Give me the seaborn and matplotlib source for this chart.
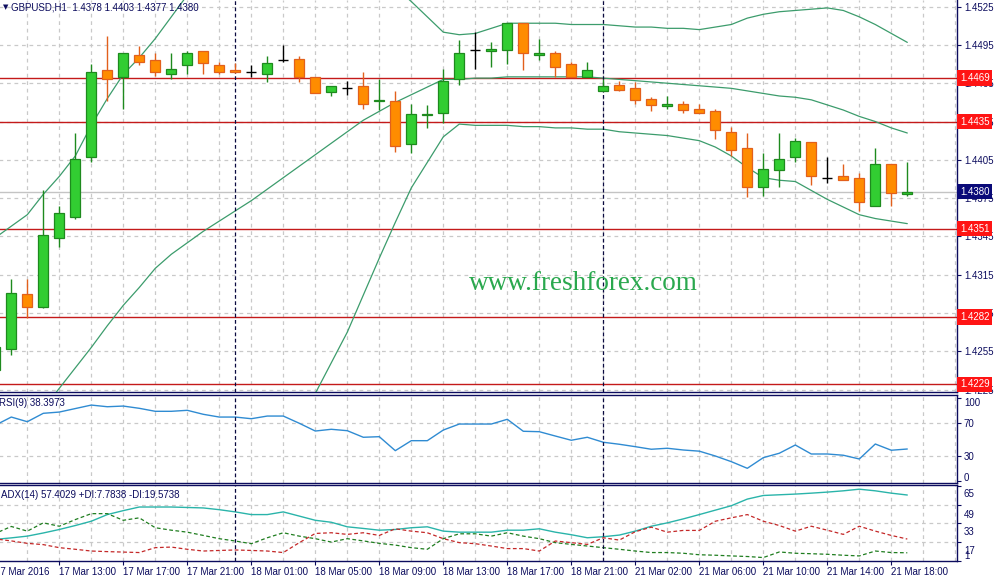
import numpy as np
import pandas as pd
import matplotlib
matplotlib.use("Agg")
import matplotlib.pyplot as plt
import matplotlib.transforms as mtransforms
import seaborn as sns

sns.set_theme(style="white")
plt.rcParams["font.family"] = ["Liberation Sans", "DejaVu Sans"]

# ---------------- DATA ----------------
bar_times = (list(pd.date_range("2016-03-17 09:00", "2016-03-17 23:00", freq="h"))
             + list(pd.date_range("2016-03-18 00:00", "2016-03-18 22:00", freq="h"))
             + list(pd.date_range("2016-03-21 00:00", "2016-03-21 19:00", freq="h")))

opens = [1.4240, 1.4257, 1.4300, 1.4290, 1.4344, 1.4360, 1.4407, 1.4475, 1.4470, 1.4487,
         1.4483, 1.4472, 1.4479, 1.4490, 1.4479, 1.4475, 1.4474, 1.4472, 1.4483, 1.4484,
         1.4470, 1.4458, 1.4461, 1.4463, 1.4451, 1.4451, 1.4417, 1.4440, 1.4442, 1.4468,
         1.4491, 1.4490, 1.4491, 1.4512, 1.4487, 1.4489, 1.4480, 1.4470, 1.4459, 1.4464,
         1.4461, 1.4453, 1.4447, 1.4449, 1.4445, 1.4443, 1.4427, 1.4414, 1.4384, 1.4397,
         1.4407, 1.4419, 1.4391, 1.4392, 1.4391, 1.4369, 1.4402, 1.4378]
highs = [1.4268, 1.4312, 1.4312, 1.4381, 1.4369, 1.4426, 1.4480, 1.4502, 1.4489, 1.4494,
         1.4489, 1.4489, 1.4490, 1.4490, 1.4482, 1.4481, 1.4479, 1.4486, 1.4495, 1.4486,
         1.4470, 1.4463, 1.4467, 1.4474, 1.4468, 1.4459, 1.4449, 1.4448, 1.4476, 1.4499,
         1.4505, 1.4497, 1.4512, 1.4512, 1.4500, 1.4490, 1.4482, 1.4482, 1.4468, 1.4467,
         1.4466, 1.4454, 1.4455, 1.4451, 1.4449, 1.4445, 1.4431, 1.4426, 1.4410, 1.4426,
         1.4422, 1.4419, 1.4407, 1.4402, 1.4395, 1.4414, 1.4402, 1.4403]
lows = [1.4232, 1.4252, 1.4281, 1.4289, 1.4337, 1.4359, 1.4403, 1.4451, 1.4445, 1.4479,
        1.4471, 1.4468, 1.4472, 1.4472, 1.4472, 1.4473, 1.4470, 1.4466, 1.4482, 1.4466,
        1.4457, 1.4455, 1.4456, 1.4445, 1.4444, 1.4411, 1.4410, 1.4430, 1.4434, 1.4464,
        1.4476, 1.4478, 1.4480, 1.4475, 1.4483, 1.4470, 1.4470, 1.4470, 1.4459, 1.4459,
        1.4449, 1.4443, 1.4445, 1.4442, 1.4442, 1.4421, 1.4408, 1.4376, 1.4377, 1.4384,
        1.4403, 1.4385, 1.4387, 1.4389, 1.4365, 1.4369, 1.4369, 1.4377]
closes = [1.4258, 1.4301, 1.4290, 1.4346, 1.4363, 1.4406, 1.4474, 1.4468, 1.4489, 1.4482,
          1.4474, 1.4476, 1.4489, 1.4481, 1.4474, 1.4474, 1.4474, 1.4481, 1.4483, 1.4470,
          1.4457, 1.4463, 1.4461, 1.4449, 1.4452, 1.4416, 1.4441, 1.4441, 1.4467, 1.4489,
          1.4491, 1.4492, 1.4512, 1.4489, 1.4489, 1.4478, 1.4470, 1.4475, 1.4463, 1.4460,
          1.4452, 1.4448, 1.4449, 1.4444, 1.4442, 1.4428, 1.4413, 1.4384, 1.4398, 1.4406,
          1.4420, 1.4392, 1.4391, 1.4389, 1.4372, 1.4402, 1.4379, 1.4380]

# Bollinger bands (parts outside the window are rough guesses, they get clipped)
bb_upper = [1.4344, 1.4353, 1.4362, 1.4378, 1.4392, 1.4408, 1.4432, 1.4453, 1.4472, 1.4485,
            1.4500, 1.4517, 1.4534, 1.4546, 1.4554, 1.4557, 1.4558, 1.4558, 1.4557, 1.4556,
            1.4555, 1.4554, 1.4553, 1.4551, 1.4547, 1.4540, 1.4529, 1.4517, 1.4505, 1.4503,
            1.4504, 1.4508, 1.4512, 1.4512, 1.4512, 1.4512, 1.4511, 1.4511, 1.4511, 1.4510,
            1.4509, 1.4509, 1.4508, 1.4508, 1.4507, 1.4509, 1.4511, 1.4516, 1.4519, 1.4521,
            1.4522, 1.4523, 1.4524, 1.4522, 1.4517, 1.4511, 1.4504, 1.4497]
bb_middle = [1.4166, 1.4178, 1.4193, 1.4210, 1.4226, 1.4242, 1.4258, 1.4275, 1.4291, 1.4305,
             1.4320, 1.4331, 1.4340, 1.4349, 1.4357, 1.4365, 1.4373, 1.4382, 1.4391, 1.4400,
             1.4409, 1.4418, 1.4427, 1.4436, 1.4443, 1.4450, 1.4456, 1.4462, 1.4468, 1.4468,
             1.4469, 1.4469, 1.4470, 1.4470, 1.4470, 1.4470, 1.4470, 1.4470, 1.4469, 1.4468,
             1.4467, 1.4466, 1.4465, 1.4464, 1.4463, 1.4462, 1.4461, 1.4459, 1.4457, 1.4455,
             1.4454, 1.4452, 1.4448, 1.4444, 1.4439, 1.4435, 1.4430, 1.4426]
bb_lower = [1.3990, 1.4000, 1.4010, 1.4020, 1.4030, 1.4045, 1.4060, 1.4075, 1.4090, 1.4100,
            1.4110, 1.4120, 1.4130, 1.4135, 1.4140, 1.4145, 1.4150, 1.4154, 1.4174, 1.4197,
            1.4222, 1.4246, 1.4270, 1.4299, 1.4328, 1.4356, 1.4383, 1.4403, 1.4423, 1.4433,
            1.4432, 1.4432, 1.4432, 1.4431, 1.4431, 1.4430, 1.4430, 1.4429, 1.4429, 1.4427,
            1.4426, 1.4425, 1.4424, 1.4422, 1.4420, 1.4415, 1.4408, 1.4399, 1.4391, 1.4389,
            1.4388, 1.4381, 1.4374, 1.4368, 1.4362, 1.4359, 1.4357, 1.4355]

rsi = [67.0, 76.8, 71.2, 81.3, 82.8, 87.0, 91.2, 89.2, 90.0, 87.3,
       83.7, 83.7, 84.9, 80.1, 76.8, 76.8, 74.8, 78.0, 78.0, 69.3,
       60.0, 62.1, 60.4, 52.5, 53.2, 36.4, 48.4, 48.4, 61.2, 68.4,
       68.4, 68.4, 74.1, 59.7, 59.2, 54.0, 48.9, 52.5, 46.5, 44.1,
       41.2, 38.1, 39.3, 37.2, 35.8, 30.0, 23.2, 15.2, 28.0, 33.3,
       43.2, 32.4, 32.4, 30.9, 26.4, 44.4, 36.9, 38.4]
adx = [19.3, 20.6, 22.1, 24.8, 27.8, 31.2, 34.9, 40.6, 44.0, 47.1,
       47.1, 47.1, 46.7, 46.3, 44.8, 42.9, 40.6, 40.6, 42.9, 39.3,
       35.7, 34.0, 30.1, 28.7, 27.2, 27.8, 29.3, 30.1, 26.4, 25.5,
       25.5, 25.5, 27.2, 27.2, 28.4, 25.5, 23.3, 20.7, 21.6, 23.0,
       26.4, 30.6, 33.5, 36.9, 40.6, 44.4, 48.2, 53.9, 57.0, 57.6,
       58.2, 59.0, 59.9, 61.0, 62.4, 61.0, 59.0, 57.4]
plus_di = [24.4, 30.4, 26.4, 33.5, 30.6, 36.3, 41.4, 41.4, 35.7, 37.8,
           29.3, 27.2, 25.5, 22.7, 19.9, 17.9, 15.6, 20.7, 25.0, 22.1,
           19.9, 17.0, 19.9, 18.0, 15.9, 14.4, 12.2, 10.8, 19.9, 24.1,
           24.1, 22.1, 25.0, 22.1, 19.9, 16.5, 15.0, 13.6, 12.2, 10.8,
           9.3, 8.0, 8.0, 7.4, 6.1, 5.7, 5.1, 4.6, 3.7, 8.5,
           7.4, 7.0, 6.5, 5.7, 5.1, 9.3, 8.0, 7.8]
minus_di = [19.7, 18.0, 15.9, 14.8, 12.2, 10.8, 9.3, 8.8, 8.4, 8.0,
            12.2, 12.7, 10.8, 9.3, 9.8, 10.2, 9.8, 9.3, 8.0, 16.5,
            24.4, 25.0, 23.6, 25.0, 22.7, 28.4, 26.4, 25.0, 19.9, 16.5,
            15.6, 13.6, 11.4, 11.4, 9.3, 17.9, 16.5, 15.0, 20.7, 18.7,
            25.9, 29.8, 25.5, 27.0, 27.0, 34.9, 37.8, 40.6, 34.9, 31.2,
            26.4, 30.6, 27.2, 23.6, 30.6, 26.4, 22.7, 19.6]

levels = [1.4469, 1.4435, 1.4351, 1.4282, 1.4229]
price_ticks = [1.4525, 1.4495, 1.4465, 1.4435, 1.4405, 1.4375, 1.4345,
               1.4315, 1.4285, 1.4255, 1.4225]
rsi_ticks = [100, 70, 30, 0]
rsi_grid = [70, 30]
adx_ticks = [65, 49, 33, 17, 1]
adx_grid = [49, 33, 17]

# ---------------- STYLE ----------------
NAVY = "#0c0c5e"
GRID = "#c9c9c9"
UP_FILL, UP_EDGE = "#32cd32", "#1e8a1e"
DN_FILL, DN_EDGE = "#ff8c00", "#e2601c"
BAND = "#3c9c6c"

W, H = 997, 583
fig = plt.figure(figsize=(W / 100, H / 100), dpi=100)


def px_axes(x0, y0, x1, y1):
    return fig.add_axes([x0 / W, 1 - y1 / H, (x1 - x0) / W, (y1 - y0) / H])


ax = px_axes(-4.7, 0, 957, 392)
ax_rsi = px_axes(-4.7, 395, 957, 482.7)
ax_adx = px_axes(-4.7, 485, 957, 560.7)

idx = np.arange(len(opens))
o, h, l, c = map(np.array, (opens, highs, lows, closes))
day_breaks = [i for i in range(1, len(bar_times)) if bar_times[i].day != bar_times[i - 1].day]

for a in (ax, ax_rsi, ax_adx):
    a.set_facecolor("white")
    a.set_xlim(0, 60.106)
    a.set_xticks(np.arange(0, 61, 2))
    a.grid(True, axis="x", color=GRID, linestyle=(0, (3, 3)), linewidth=0.9)
    a.tick_params(axis="x", which="major", length=0, labelbottom=False)
    a.yaxis.tick_right()
    a.tick_params(axis="y", which="major", direction="out", length=3, width=0.8,
                  color=NAVY, labelcolor=NAVY, labelsize=7, pad=2, right=True)
    for s in a.spines.values():
        s.set_color(NAVY)
        s.set_linewidth(1.0)
    for d in day_breaks:
        a.axvline(d, color="#0a0a40", linestyle=(0, (3, 2)), linewidth=0.9, zorder=4)
ax.spines["top"].set_visible(False)

# =========================================================
# MAIN PRICE WINDOW
# =========================================================
ax.set_ylim(1.42231, 1.45302)
ax.set_yticks(price_ticks, [f"{p:.4f}" for p in price_ticks])
ax.grid(True, axis="y", color=GRID, linestyle=(0, (3, 3)), linewidth=0.9)

ax.axhline(closes[-1], color="#c4c4c4", linewidth=1.0, zorder=1)
for lv in levels:
    ax.axhline(lv, color="#c41a1a", linewidth=1.0, zorder=2)

for band in (bb_upper, bb_middle, bb_lower):
    sns.lineplot(x=idx, y=band, ax=ax, color=BAND, linewidth=0.9, legend=False, zorder=3)

up = c > o
dn = c < o
flat = np.isclose(c, o)
up &= ~flat
dn &= ~flat
bw = 0.62
ax.vlines(idx[up], l[up], h[up], color=UP_EDGE, linewidth=1.0, zorder=5)
ax.bar(idx[up], c[up] - o[up], bottom=o[up], width=bw, color=UP_FILL,
       edgecolor=UP_EDGE, linewidth=0.9, zorder=6)
ax.vlines(idx[dn], l[dn], h[dn], color=DN_EDGE, linewidth=1.0, zorder=5)
ax.bar(idx[dn], c[dn] - o[dn], bottom=o[dn], width=bw, color=DN_FILL,
       edgecolor=DN_EDGE, linewidth=0.9, zorder=6)
ax.vlines(idx[flat], l[flat], h[flat], color="black", linewidth=1.0, zorder=5)
ax.hlines(c[flat], idx[flat] - bw / 2, idx[flat] + bw / 2, color="black", linewidth=1.0, zorder=5)

ytrans = ax.get_yaxis_transform()
for lv in levels:
    ax.text(1.003, lv, f"{lv:.4f}", transform=ytrans, ha="left", va="center",
            fontsize=7, color="white", clip_on=False, zorder=10,
            bbox=dict(boxstyle="square,pad=0.28", fc="#ff1414", ec="none"))
ax.text(1.003, closes[-1], f"{closes[-1]:.4f}", transform=ytrans, ha="left", va="center",
        fontsize=7, color="white", clip_on=False, zorder=10,
        bbox=dict(boxstyle="square,pad=0.28", fc="#0a0a78", ec="none"))

ax.text(0.0085, 0.9814, "\u25bc", transform=ax.transAxes, fontsize=5, color=NAVY,
        va="center", ha="left", family=["DejaVu Sans"])
ax.text(0.016, 0.9814, f"GBPUSD,H1  {opens[-1]:.4f} {highs[-1]:.4f} {lows[-1]:.4f} {closes[-1]:.4f}",
        transform=ax.transAxes, fontsize=7, color=NAVY, va="center", ha="left")
ax.text(0.6115, 0.278, "www.freshforex.com", transform=ax.transAxes, fontsize=19.5,
        color="#2aa84e", ha="center", va="center", family=["Liberation Serif", "DejaVu Serif"],
        zorder=7)
ax.set_xlabel("")
ax.set_ylabel("")

# =========================================================
# RSI WINDOW
# =========================================================
ax_rsi.set_ylim(-2.1, 103.3)
ax_rsi.set_yticks(rsi_ticks, [str(t) for t in rsi_ticks])
for g in rsi_grid:
    ax_rsi.axhline(g, color=GRID, linestyle=(0, (3, 3)), linewidth=0.9, zorder=1)
sns.lineplot(x=idx, y=rsi, ax=ax_rsi, color="#2f8bd2", linewidth=1.0, legend=False, zorder=3)
ax_rsi.text(0.0038, 0.905, f"RSI(9) {38.3973:.4f}", transform=ax_rsi.transAxes,
            fontsize=7, color=NAVY, va="center", ha="left")
ax_rsi.set_xlabel("")
ax_rsi.set_ylabel("")

# =========================================================
# ADX WINDOW
# =========================================================
ax_adx.set_ylim(1, 66)
ax_adx.set_yticks(adx_ticks, [str(t) for t in adx_ticks])
for g in adx_grid:
    ax_adx.axhline(g, color=GRID, linestyle=(0, (3, 3)), linewidth=0.9, zorder=1)
sns.lineplot(x=idx, y=adx, ax=ax_adx, color="#2ab4aa", linewidth=1.0, legend=False, zorder=3)
sns.lineplot(x=idx, y=plus_di, ax=ax_adx, color="#1f7d1f", linewidth=0.9,
             linestyle=(0, (3, 2)), legend=False, zorder=3)
sns.lineplot(x=idx, y=minus_di, ax=ax_adx, color="#c42828", linewidth=0.9,
             linestyle=(0, (3, 2)), legend=False, zorder=3)
ax_adx.text(0.006, 0.868, "ADX(14) 57.4029 +DI:7.7838 -DI:19.5738", transform=ax_adx.transAxes,
            fontsize=7, color=NAVY, va="center", ha="left")
ax_adx.set_xlabel("")
ax_adx.set_ylabel("")

label_pos = list(range(0, len(bar_times), 4))
label_txt = [bar_times[0].strftime("%d %b %Y")] + \
    [bar_times[i].strftime("%d %b %H:%M") for i in label_pos[1:]]
ax_adx.xaxis.remove_overlapping_locs = False
ax_adx.set_xticks(label_pos, label_txt, minor=True)
ax_adx.tick_params(axis="x", which="minor", direction="out", length=3, width=0.8,
                   color=NAVY, labelcolor=NAVY, labelsize=7, pad=1.5,
                   bottom=True, labelbottom=True)
for lbl in ax_adx.get_xticklabels(minor=True):
    lbl.set_ha("left")


# MT4 draws some sub-window labels nudged off their grid lines
def nudge(axis_obj, shifts_px):
    for tick, dy in zip(axis_obj.yaxis.get_major_ticks(), shifts_px):
        off = mtransforms.ScaledTranslation(0, -dy / 100, fig.dpi_scale_trans)
        tick.label2.set_transform(tick.label2.get_transform() + off)


nudge(ax_rsi, [4, 0, 0, -4])
nudge(ax_adx, [6.5, 9, 8, 8, -6])

fig.savefig("out.png", dpi=100, facecolor="white")
